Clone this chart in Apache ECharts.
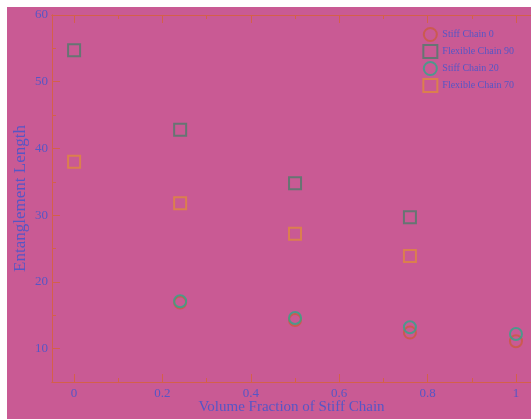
<!DOCTYPE html>
<html><head><meta charset="utf-8">
<script src="https://cdn.jsdelivr.net/npm/echarts@6/dist/echarts.min.js"></script>
<style>html,body{margin:0;padding:0;background:#fff}#c{width:531px;height:419px}</style>
</head><body><div id="c"></div>
<script>
var seriesNames = ['Stiff Chain 0', 'Flexible Chain 90', 'Stiff Chain 20', 'Flexible Chain 70'];
var stiff0X = [0.24, 0.5, 0.76, 1];
var stiff0Y = [16.9, 14.3, 12.4, 11.1];
var flex90X = [0, 0.24, 0.5, 0.76];
var flex90Y = [54.7, 42.8, 34.8, 29.7];
var stiff20X = [0.24, 0.5, 0.76, 1];
var stiff20Y = [17.1, 14.6, 13.2, 12.2];
var flex70X = [0, 0.24, 0.5, 0.76];
var flex70Y = [38.0, 31.8, 27.2, 23.9];
var xMajor = [0, 0.2, 0.4, 0.6, 0.8, 1];
var xMinor = [0.1, 0.3, 0.5, 0.7, 0.9];
var yMajor = [10, 20, 30, 40, 50, 60];
var yMinor = [5, 15, 25, 35, 45, 55];

function pairs(xs, ys){ return xs.map(function(x,i){ return [x, ys[i]]; }); }

var axisCol = '#D4604A';
var textCol = '#5656C6';
var font = 'Liberation Serif';
var chart = echarts.init(document.getElementById('c'));
function xa(pos, vals, len, labels){
  return {type:'value', position:pos, min:-0.05, max:1.034,
    axisLine:{show:true, onZero:false, lineStyle:{color:axisCol, width:1}},
    axisTick:{show:true, inside:true, length:len, customValues:vals, lineStyle:{color:axisCol}},
    axisLabel:{show:labels, customValues:vals, margin:5, color:textCol, fontFamily:font, fontSize:13,
      formatter:function(v){ return String(Math.round(v*10)/10); }},
    splitLine:{show:false},
    name: labels ? 'Volume Fraction of Stiff Chain' : '', nameLocation:'middle', nameGap:18, nameMoveOverlap:false,
    nameTextStyle:{color:textCol, fontFamily:font, fontSize:15}};
}
function ya(vals, len, labels){
  return {type:'value', position:'left', min:5, max:60,
    axisLine:{show:true, onZero:false, lineStyle:{color:axisCol, width:1}},
    axisTick:{show:true, inside:true, length:len, customValues:vals, lineStyle:{color:axisCol}},
    axisLabel:{show:labels, customValues:vals, margin:4, color:textCol, fontFamily:font, fontSize:13},
    splitLine:{show:false},
    name: labels ? 'Entanglement Length' : '', nameLocation:'middle', nameGap:23, nameMoveOverlap:false,
    nameTextStyle:{color:textCol, fontFamily:font, fontSize:17}};
}
var option = {
  backgroundColor:'#ffffff',
  animation:false,
  graphic:[{type:'rect', z:-10, silent:true, shape:{x:7, y:7, width:524, height:412}, style:{fill:'#C95A94'}}],
  grid:{left:52, top:15, right:0, height:367, containLabel:false, outerBoundsMode:'none'},
  xAxis:[xa('bottom', xMajor, 8, true), xa('bottom', xMinor, 4, false), xa('top', xMajor, 8, false), xa('top', xMinor, 4, false)],
  yAxis:[ya(yMajor, 8, true), ya(yMinor, 4, false)],
  legend:{show:true, right:12, top:22, orient:'vertical', itemGap:2, itemWidth:14, itemHeight:13,
    textStyle:{color:textCol, fontFamily:font, fontSize:10},
    data:seriesNames.map(function(n){return {name:n};})},
  series:[
    {name:seriesNames[0], type:'scatter', symbol:'circle', symbolSize:12, data:pairs(stiff0X, stiff0Y),
      itemStyle:{color:'rgba(0,0,0,0)', borderColor:'#CC5A3E', borderWidth:2}},
    {name:seriesNames[1], type:'scatter', symbol:'rect', symbolSize:12, data:pairs(flex90X, flex90Y),
      itemStyle:{color:'rgba(0,0,0,0)', borderColor:'#4E7C6A', borderWidth:2}},
    {name:seriesNames[2], type:'scatter', symbol:'circle', symbolSize:12, data:pairs(stiff20X, stiff20Y),
      itemStyle:{color:'rgba(0,0,0,0)', borderColor:'#2EA88A', borderWidth:2}},
    {name:seriesNames[3], type:'scatter', symbol:'rect', symbolSize:12, data:pairs(flex70X, flex70Y),
      itemStyle:{color:'rgba(0,0,0,0)', borderColor:'#E0883C', borderWidth:2}}
  ]
};
chart.setOption(option);
</script></body></html>
